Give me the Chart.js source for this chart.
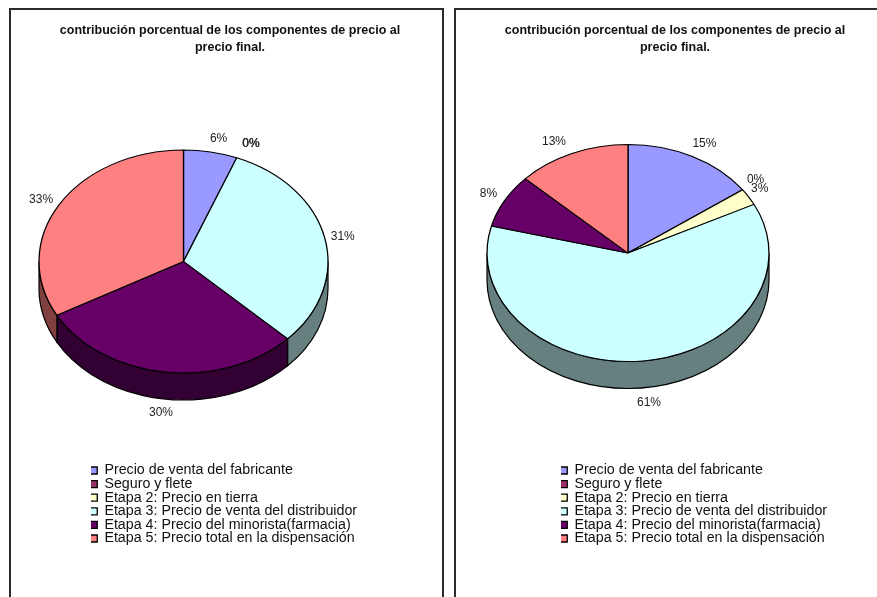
<!DOCTYPE html>
<html>
<head>
<meta charset="utf-8">
<script src="https://cdn.jsdelivr.net/npm/chart.js@4"></script>
<style>
  html, body { margin: 0; padding: 0; background: #fff; overflow: hidden; }
  .frame { position: absolute; top: 8px; height: 600px; box-sizing: border-box; border: 2px solid #2a2a2a; background: #fff; }
  canvas { position: absolute; top: 0; }
</style>
</head>
<body>
<div class="frame" style="left:9px;width:435px"></div>
<div class="frame" style="left:454px;width:440px"></div>
<canvas id="chartIzq" style="left:17px" width="426" height="597"></canvas>
<canvas id="chartDer" style="left:473px" width="404" height="597"></canvas>
<script>
const categorias = [
  'Precio de venta del fabricante',
  'Seguro y flete',
  'Etapa 2: Precio en tierra',
  'Etapa 3: Precio de venta del distribuidor',
  'Etapa 4: Precio del minorista(farmacia)',
  'Etapa 5: Precio total en la dispensación'
];
const valoresIzq = [6, 0, 0, 31.2, 29.8, 33];
const valoresDer = [15.1, 0, 2.5, 61.4, 8, 13];
const titulo = ['contribución porcentual de los componentes de precio al', 'precio final.'];

const colores = ['#9999FF', '#993366', '#FFFFCC', '#CCFFFF', '#660066', '#FF8080'];
const coloresLado = ['#4D4D80', '#4D1A33', '#808066', '#668080', '#330033', '#804040'];

// plugin for the tilted pie, the side wall and the % labels
const pie3d = {
  id: 'pie3d',
  afterLayout(chart, args, opts) {
    const lg = chart.legend;
    lg.left = opts.legendX; lg.right = opts.legendX + 300;
    lg.top = opts.legendY; lg.bottom = opts.legendY + 100;
  },
  beforeDatasetsDraw(chart, args, opts) {
    const ctx = chart.ctx;
    const arcs = chart.getDatasetMeta(0).data;
    const rx = opts.rx, ry = opts.ry, cx = opts.cx, cy = opts.cy;
    ctx.save();
    ctx.lineWidth = 1.2;
    ctx.strokeStyle = '#000';
    arcs.forEach((arc, i) => {
      const a0 = Math.max(arc.startAngle, 0);
      const a1 = Math.min(arc.endAngle, Math.PI);
      if (a1 <= a0) return;
      ctx.beginPath();
      ctx.ellipse(cx, cy, rx, ry, 0, a0, a1);
      ctx.ellipse(cx, cy + opts.depth, rx, ry, 0, a1, a0, true);
      ctx.closePath();
      ctx.fillStyle = coloresLado[i];
      ctx.fill();
      ctx.stroke();
    });
    ctx.restore();
    const a = arcs[0];
    ctx.save();
    ctx.translate(cx, cy);
    ctx.scale(1, ry / rx);
    ctx.translate(-a.x, -a.y);
  },
  afterDatasetsDraw(chart, args, opts) {
    const ctx = chart.ctx;
    ctx.restore();
    const arcs = chart.getDatasetMeta(0).data;
    const vals = chart.data.datasets[0].data;
    const total = vals.reduce((s, v) => s + v, 0);
    ctx.save();
    ctx.font = '12px "Liberation Sans"';
    ctx.fillStyle = '#222';
    ctx.textAlign = 'center';
    ctx.textBaseline = 'middle';
    arcs.forEach((arc, i) => {
      const n = opts.nudges[i];
      const mid = (arc.startAngle + arc.endAngle) / 2;
      const x = opts.cx + opts.rx * Math.cos(mid) + n[0];
      const y = opts.cy + opts.ry * Math.sin(mid) + n[1];
      ctx.fillText(Math.round(vals[i] / total * 100) + '%', x, y);
    });
    ctx.restore();
  }
};

function crearPie(id, valores, geo) {
  return new Chart(document.getElementById(id), {
    type: 'pie',
    data: {
      labels: categorias,
      datasets: [{
        data: valores,
        backgroundColor: colores,
        borderColor: '#000',
        borderWidth: 1.3,
        clip: false
      }]
    },
    plugins: [pie3d],
    options: {
      animation: false,
      responsive: false,
      events: [],
      radius: geo.rx,
      plugins: {
        title: {
          display: true,
          text: titulo,
          color: '#111',
          font: { family: '"Liberation Sans"', size: 12.5, weight: 'bold', lineHeight: 1.36 },
          padding: { top: 22, bottom: 0 }
        },
        legend: {
          position: 'chartArea',
          align: 'start',
          // empty legend title: only pushes the rows down so the clip does not cut them
          title: { display: true, text: '', padding: 0, font: { size: 6, lineHeight: 1 } },
          labels: {
            color: '#111',
            font: { family: '"Liberation Sans"', size: 14.25, lineHeight: 1 },
            boxWidth: 7,
            boxHeight: 7,
            padding: -0.65
          }
        },
        tooltip: { enabled: false },
        pie3d: geo
      }
    }
  });
}

crearPie('chartIzq', valoresIzq, {
  cx: 166.5, cy: 261.5, rx: 144.5, ry: 111.5, depth: 27,
  legendX: 73.9, legendY: 458,
  nudges: [[8, -13], [14, -14], [14.5, -14], [18, -1], [-3.5, 41], [-18, -5]]
});

crearPie('chartDer', valoresDer, {
  cx: 155, cy: 253, rx: 141, ry: 108.5, depth: 27,
  legendX: 87.9, legendY: 458,
  nudges: [[12, -13], [13, -10], [11, -8], [6, 42], [-16, -7], [-18, -12]]
});
</script>
</body>
</html>
